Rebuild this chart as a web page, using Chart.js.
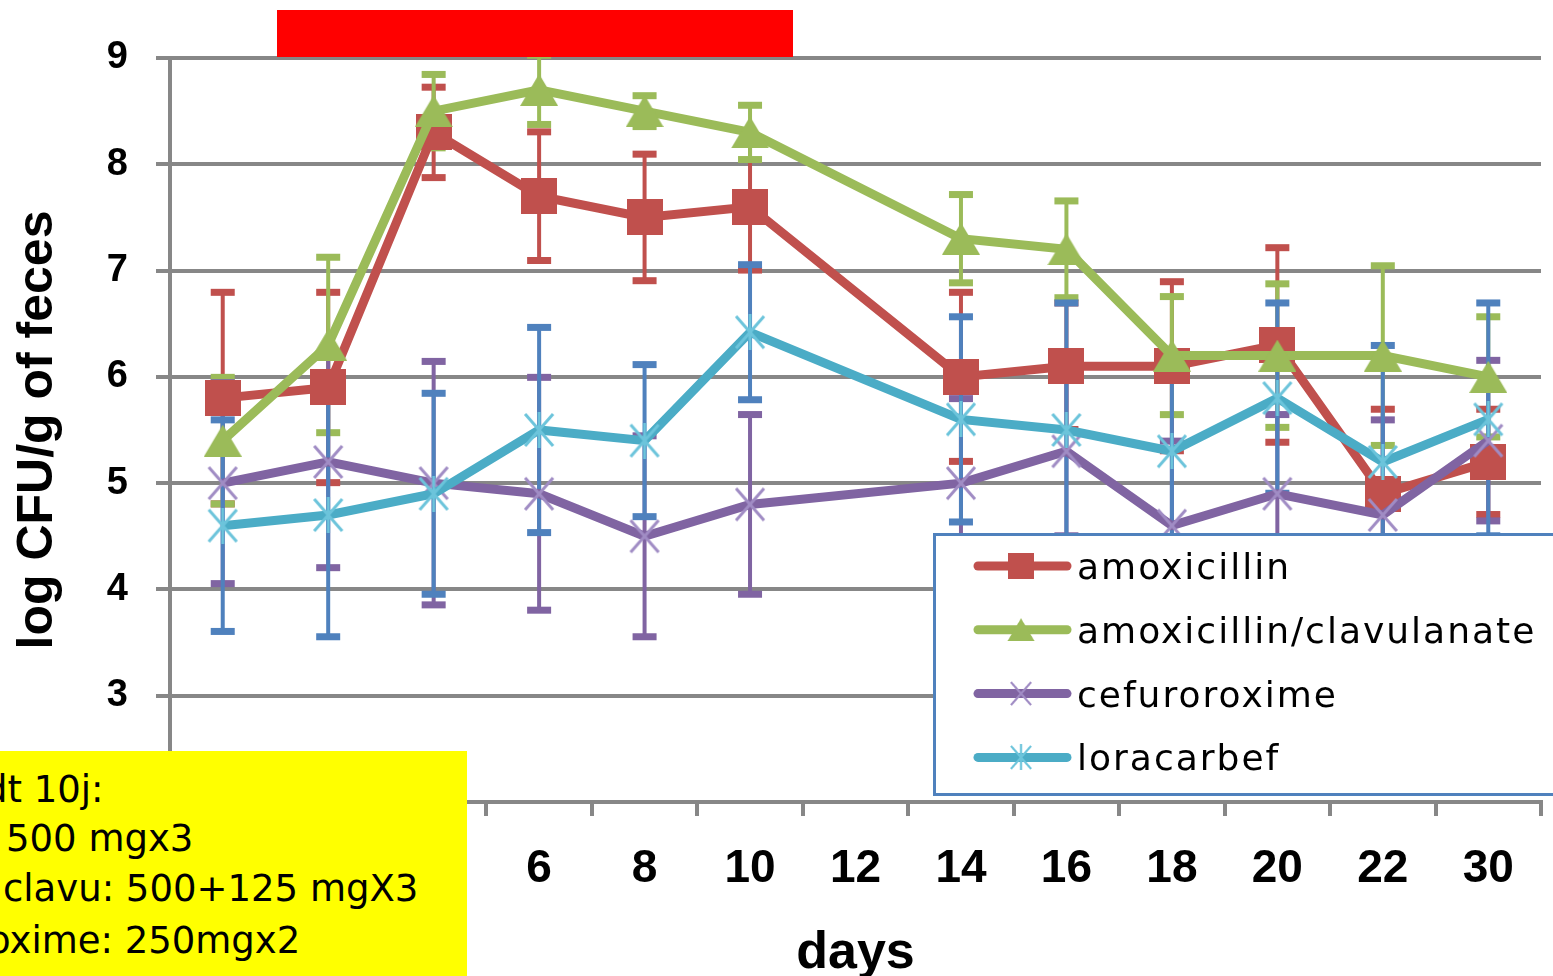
<!DOCTYPE html>
<html>
<head>
<meta charset="utf-8">
<title>log CFU/g of feces</title>
<script src="https://cdn.jsdelivr.net/npm/chart.js@4.4.1/dist/chart.umd.min.js"></script>
<style>
body { margin: 0; background: #fff; }
#wrap { position: relative; width: 1553px; height: 976px; overflow: hidden; }
#chart { position: absolute; left: 0; top: 0; }
#period { position: absolute; left: 277px; top: 10px; width: 516px; height: 47px; background: #ff0000; }
#note { position: absolute; left: 0; top: 751px; width: 467px; height: 225px; background: #ffff00; overflow: hidden;
    font-family: 'Comic Sans MS', 'DejaVu Sans', sans-serif; font-size: 37px; color: #000; }
#note div { position: absolute; white-space: nowrap; line-height: 50px; }
</style>
</head>
<body>
<div id="wrap">
    <canvas id="chart" width="1553" height="976"></canvas>
    <div id="period"></div>
    <div id="note">
        <div style="left:-16px; top:14px;">dt 10j:</div>
        <div style="left:6px; top:63px;">500 mgx3</div>
        <div style="left:3px; top:113px;">clavu: 500+125 mgX3</div>
        <div style="left:-12px; top:165px;">oxime: 250mgx2</div>
    </div>
</div>
<script>
// days (x categories), day 12 has no measurement
const days = ['0', '2', '4', '6', '8', '10', '12', '14', '16', '18', '20', '22', '30'];

const amox       = [5.8, 5.9, 8.3, 7.7, 7.5, 7.6, null, 6.0, 6.1, 6.1, 6.3, 4.9, 5.2];
const amoxErr    = [1.0, 0.9, 0.43, 0.61, 0.6, 0.6, null, 0.8, 0.6, 0.8, 0.92, 0.8, 0.5];

const amoxClav    = [5.4, 6.3, 8.5, 8.7, 8.5, 8.3, null, 7.3, 7.2, 6.2, 6.2, 6.2, 6.0];
const amoxClavErr = [0.6, 0.83, 0.35, 0.33, 0.15, 0.26, null, 0.42, 0.46, 0.56, 0.68, 0.85, 0.57];

const cefu    = [5.0, 5.2, 5.0, 4.9, 4.5, 4.8, null, 5.0, 5.3, 4.6, 4.9, 4.7, 5.4];
const cefuErr = [0.95, 1.0, 1.15, 1.1, 0.95, 0.85, null, 0.8, 0.8, 0.8, 0.75, 0.9, 0.76];

const lora    = [4.6, 4.7, 4.9, 5.5, 5.4, 6.42, null, 5.6, 5.5, 5.3, 5.8, 5.2, 5.6];
const loraErr = [1.0, 1.15, 0.95, 0.97, 0.72, 0.64, null, 0.97, 1.2, 0.9, 0.9, 1.1, 1.1];

const seriesNames = ['amoxicillin', 'amoxicillin/clavulanate', 'cefuroroxime', 'loracarbef'];

const yTicks = [2, 3, 4, 5, 6, 7, 8, 9];

const errs = [amoxErr, amoxClavErr, cefuErr, loraErr];
const errColors = ['#C0504D', '#9BBB59', '#8064A2', '#4F81BD'];

const GRID = '#878787';
const FONT = "'Liberation Sans', Arial, sans-serif";

// marker images
function makeMarker(w, h, draw) {
    var c = document.createElement('canvas');
    c.width = w;
    c.height = h;
    draw(c.getContext('2d'), w, h);
    return c;
}
var squareMark = makeMarker(36, 36, function(g, w, h) {
    g.fillStyle = '#C0504D';
    g.fillRect(0, 0, w, h);
});
var triMark = makeMarker(38, 32, function(g, w, h) {
    g.fillStyle = '#9BBB59';
    g.beginPath();
    g.moveTo(w / 2, 0);
    g.lineTo(w, h);
    g.lineTo(0, h);
    g.closePath();
    g.fill();
});
var xMark = makeMarker(32, 36, function(g, w, h) {
    g.strokeStyle = '#A08CC4';
    g.lineWidth = 3;
    g.beginPath();
    g.moveTo(2, 2); g.lineTo(w - 2, h - 2);
    g.moveTo(w - 2, 2); g.lineTo(2, h - 2);
    g.stroke();
});
var starMark = makeMarker(32, 36, function(g, w, h) {
    g.strokeStyle = '#6CC4DB';
    g.lineWidth = 3;
    g.beginPath();
    g.moveTo(2, 2); g.lineTo(w - 2, h - 2);
    g.moveTo(w - 2, 2); g.lineTo(2, h - 2);
    g.moveTo(w / 2, 0); g.lineTo(w / 2, h);
    g.stroke();
});

// error bars, drawn under the lines
const errorBars = {
    id: 'errorBars',
    beforeDatasetsDraw(chart) {
        var ctx = chart.ctx;
        var x = chart.scales.x, y = chart.scales.y;
        ctx.save();
        chart.data.datasets.forEach(function(ds, di) {
            var err = errs[di];
            ctx.strokeStyle = errColors[di];
            ctx.fillStyle = errColors[di];
            ctx.lineWidth = 4;
            ds.data.forEach(function(v, i) {
                if (v == null) return;
                var px = x.getPixelForValue(i);
                var top = y.getPixelForValue(v + err[i]);
                var bot = y.getPixelForValue(v - err[i]);
                ctx.beginPath();
                ctx.moveTo(px, top);
                ctx.lineTo(px, bot);
                ctx.stroke();
                ctx.fillRect(px - 12, top - 3, 24, 7);
                ctx.fillRect(px - 12, bot - 4, 24, 7);
            });
        });
        ctx.restore();
    }
};

// boxed legend inside the plot, lower right
const boxLegend = {
    id: 'boxLegend',
    afterDraw(chart) {
        var ctx = chart.ctx;
        ctx.save();
        ctx.fillStyle = '#fff';
        ctx.fillRect(934, 534, 640, 260);
        ctx.strokeStyle = '#4F81BD';
        ctx.lineWidth = 3;
        ctx.strokeRect(934.5, 534.5, 640, 260);
        chart.data.datasets.forEach(function(ds, i) {
            var yy = 566 + i * 63.8;
            ctx.strokeStyle = ds.borderColor;
            ctx.lineWidth = 9;
            ctx.lineCap = 'round';
            ctx.beginPath();
            ctx.moveTo(978, yy);
            ctx.lineTo(1067, yy);
            ctx.stroke();
            var m = ds.pointStyle;
            var mw = m.width * 0.72, mh = m.height * 0.72;
            ctx.drawImage(m, 1021 - mw / 2, yy - mh / 2, mw, mh);
            ctx.fillStyle = '#000';
            ctx.font = "36px 'DejaVu Sans', sans-serif";
            ctx.letterSpacing = '2px';
            ctx.textBaseline = 'alphabetic';
            ctx.fillText(ds.label, 1077, yy + 13);
        });
        ctx.restore();
    }
};

function lineSet(label, data, color, marker, order) {
    return {
        label: label,
        data: data,
        borderColor: color,
        backgroundColor: color,
        borderWidth: 9,
        pointStyle: marker,
        pointRadius: 12,
        pointBorderWidth: 0,
        tension: 0,
        spanGaps: true,
        order: order
    };
}

var ctx = document.getElementById('chart');
var myChart = new Chart(ctx, {
    type: 'line',
    data: {
        labels: days,
        datasets: [
            lineSet(seriesNames[0], amox, '#C0504D', squareMark, 4),
            lineSet(seriesNames[1], amoxClav, '#9BBB59', triMark, 3),
            lineSet(seriesNames[2], cefu, '#8064A2', xMark, 2),
            lineSet(seriesNames[3], lora, '#4BACC6', starMark, 1)
        ]
    },
    options: {
        responsive: false,
        animation: false,
        devicePixelRatio: 1,
        layout: { padding: { top: 58, right: 8, left: 0, bottom: 0 } },
        plugins: {
            legend: { display: false },
            tooltip: { enabled: false }
        },
        scales: {
            x: {
                type: 'category',
                offset: true,
                afterFit: function(s) { s.height = 174; },
                grid: { offset: true, drawOnChartArea: false, drawTicks: true, tickLength: 14, color: GRID, lineWidth: 4 },
                border: { color: GRID, width: 4 },
                ticks: { color: '#000', font: { family: FONT, size: 46, weight: 'bold' }, padding: 26, maxRotation: 0, autoSkip: false },
                title: { display: true, text: 'days', color: '#000', font: { family: FONT, size: 52, weight: 'bold', lineHeight: 1 }, padding: { top: 0, bottom: -4 } }
            },
            y: {
                min: 2,
                max: 9,
                afterFit: function(s) { s.width = 170; },
                afterBuildTicks: function(s) { s.ticks = yTicks.map(function(v) { return { value: v }; }); },
                grid: { color: GRID, lineWidth: 4, tickLength: 14 },
                border: { color: GRID, width: 4 },
                ticks: { color: '#000', font: { family: FONT, size: 38, weight: 'bold' }, padding: 28 },
                title: { display: true, text: 'log CFU/g of feces', color: '#000', font: { family: FONT, size: 50, weight: 'bold' }, padding: { top: 8, bottom: 0 } }
            }
        }
    },
    plugins: [errorBars, boxLegend]
});
</script>
</body>
</html>
